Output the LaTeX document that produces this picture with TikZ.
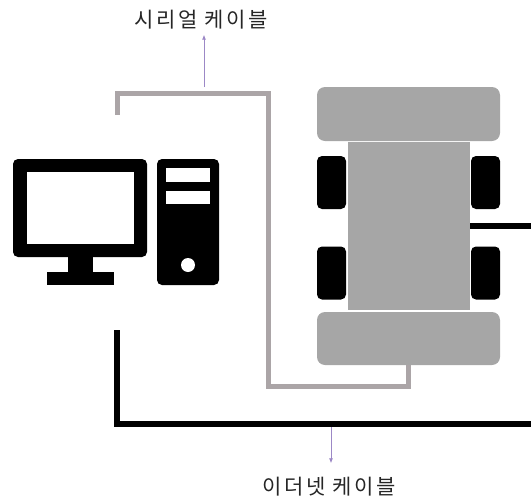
\documentclass[tikz,border=0pt]{standalone}
\usepackage{fontspec}
\newfontfamily\kofont[LetterSpace=12]{Noto Sans CJK KR}
\usetikzlibrary{arrows.meta}
\definecolor{bodygray}{HTML}{A6A6A6}
\definecolor{cablegray}{HTML}{ABA5A7}
\definecolor{tagviolet}{HTML}{9C88C6}
\tikzset{
  part/.style={fill=bodygray, inner sep=0pt, rounded corners=8pt},
  wheel/.style={fill=black, inner sep=0pt, rounded corners=5pt,
    minimum width=29pt, minimum height=53pt},
  serial/.style={draw=cablegray, line width=5pt},
  ether/.style={draw=black, line width=6pt},
  tag/.style={draw=tagviolet, line width=0.8pt, -{Latex[length=5pt,width=4pt]}},
  caption/.style={font=\kofont\fontsize{21}{24}\selectfont, text=black!85, inner sep=2pt}
}
\begin{document}
\begin{tikzpicture}[x=1pt, y=-1pt]
\useasboundingbox (0,0) rectangle (531,501);
% robot seen from above
\node[part, minimum width=122pt, minimum height=168pt, rounded corners=0pt] (body) at (409,226) {};
\node[part, minimum width=183pt, minimum height=54pt] (front) at (408.5,114) {};
\node[part, minimum width=183pt, minimum height=53pt] (rear) at (408.5,338.5) {};
\node[wheel] (fl) at (331.5,182.5) {};
\node[wheel] (fr) at (485.5,182.5) {};
\node[wheel] (rl) at (331.5,273) {};
\node[wheel] (rr) at (485.5,273) {};
% desktop pc
\fill[rounded corners=5pt] (13,159) rectangle (147,257);
\fill[white] (27,172) rectangle (134,244);
\fill (68,255) rectangle (93,273);
\fill (47,272) rectangle (114,285);
\fill[rounded corners=5pt] (157,159) rectangle (219,285);
\fill[white] (166,168) rectangle (210,182);
\fill[white] (166,191) rectangle (210,204);
\fill[white] (188,265) circle (7pt);
% cables
\coordinate (ser-pc) at (117,115);
\coordinate (eth-pc) at (117,330);
\coordinate (eth-out) at (531,424);
\coordinate (lan-out) at (531,226);
\draw[serial] (ser-pc) -- ++(0,-22) -| (268,386) -| (rear.south);
\draw[ether] (eth-pc) |- (eth-out);
\draw[ether] (body.east) -- (lan-out);
% labels
\node[caption] (ser-lbl) at (201,20) {시리얼 케이블};
\node[caption] (eth-lbl) at (329,487) {이더넷 케이블};
\coordinate (ser-tap) at (204,90);
\coordinate (eth-tap) at (331,424);
\draw[tag, shorten <=3pt, shorten >=3pt] (ser-tap) -- (ser-tap |- ser-lbl.south);
\draw[tag, shorten <=3pt, shorten >=12pt] (eth-tap) -- (eth-tap |- eth-lbl.north);
\end{tikzpicture}
\end{document}
